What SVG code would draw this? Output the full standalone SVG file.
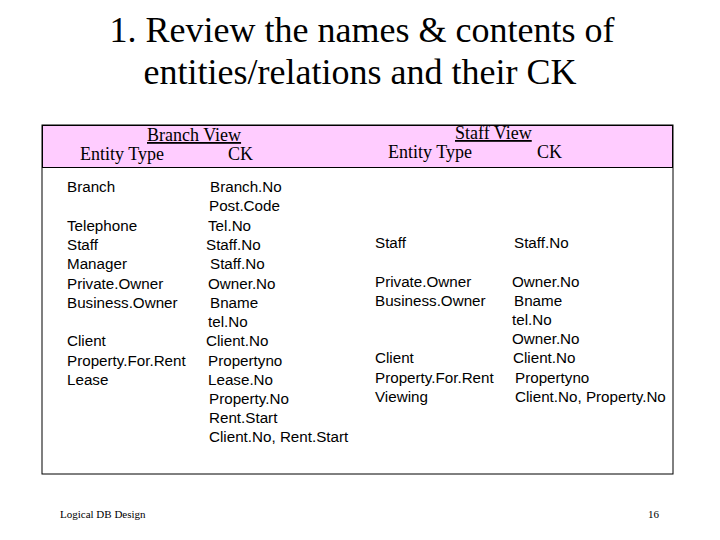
<svg xmlns="http://www.w3.org/2000/svg" width="720" height="540" viewBox="0 0 720 540">
<style>
.t{font-family:"Liberation Serif",serif;font-size:36px;fill:#000;text-anchor:middle}
.h{font-family:"Liberation Serif",serif;font-size:18px;fill:#000}
.s{font-family:"Liberation Sans",sans-serif;font-size:15.2px;fill:#000}
.f{font-family:"Liberation Serif",serif;font-size:11px;fill:#000}
</style>
<rect width="720" height="540" fill="#fff"/>
<text class="t" x="362" y="42">1. Review the names &amp; contents of</text>
<text class="t" x="360" y="84">entities/relations and their CK</text>
<rect x="42" y="125" width="631" height="349" fill="#fff" stroke="#000" stroke-width="1"/>
<rect x="42.5" y="125.5" width="630" height="42" fill="#ffccff" stroke="#000" stroke-width="1"/>
<g id="left-header" class="h">
<text x="147" y="141" text-decoration="underline">Branch View</text>
<text x="80" y="160">Entity Type</text>
<text x="228" y="160">CK</text>
</g>
<g id="right-header" class="h">
<text x="455" y="139" text-decoration="underline">Staff View</text>
<text x="388" y="158">Entity Type</text>
<text x="537" y="158">CK</text>
</g>
<g id="left-entities" class="s">
<text x="67" y="192">Branch</text>
<text x="67" y="231">Telephone</text>
<text x="67" y="250">Staff</text>
<text x="67" y="269">Manager</text>
<text x="67" y="289">Private.Owner</text>
<text x="67" y="308">Business.Owner</text>
<text x="67" y="346">Client</text>
<text x="67" y="366">Property.For.Rent</text>
<text x="67" y="385">Lease</text>
</g>
<g id="left-ck" class="s">
<text x="210" y="192">Branch.No</text>
<text x="209" y="211">Post.Code</text>
<text x="208" y="231">Tel.No</text>
<text x="206" y="250">Staff.No</text>
<text x="210" y="269">Staff.No</text>
<text x="208" y="289">Owner.No</text>
<text x="210" y="308">Bname</text>
<text x="208" y="327">tel.No</text>
<text x="206" y="346">Client.No</text>
<text x="208" y="366">Propertyno</text>
<text x="208" y="385">Lease.No</text>
<text x="209" y="404">Property.No</text>
<text x="209" y="423">Rent.Start</text>
<text x="209" y="442">Client.No, Rent.Start</text>
</g>
<g id="right-entities" class="s">
<text x="375" y="248">Staff</text>
<text x="375" y="287">Private.Owner</text>
<text x="375" y="306">Business.Owner</text>
<text x="375" y="363">Client</text>
<text x="375" y="383">Property.For.Rent</text>
<text x="375" y="402">Viewing</text>
</g>
<g id="right-ck" class="s">
<text x="514" y="248">Staff.No</text>
<text x="512" y="287">Owner.No</text>
<text x="514" y="306">Bname</text>
<text x="512" y="325">tel.No</text>
<text x="512" y="344">Owner.No</text>
<text x="513" y="363">Client.No</text>
<text x="515" y="383">Propertyno</text>
<text x="515" y="402">Client.No, Property.No</text>
</g>
<text class="f" x="60" y="518">Logical DB Design</text>
<text class="f" x="659" y="518" text-anchor="end">16</text>
</svg>
